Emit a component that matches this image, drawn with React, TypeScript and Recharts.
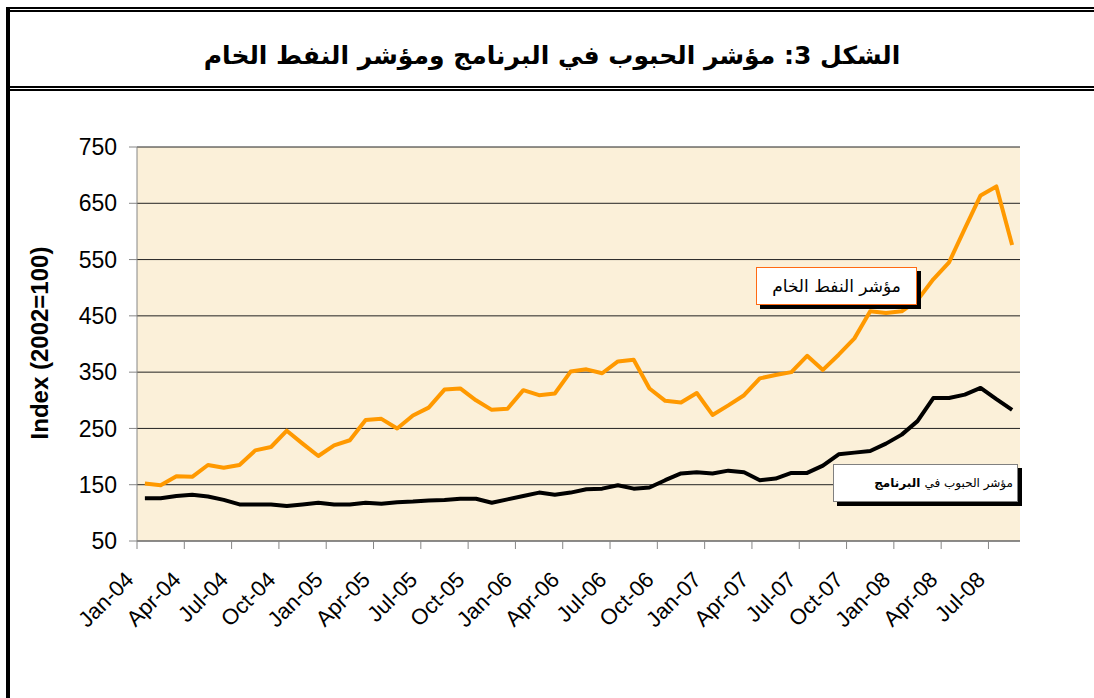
import React from 'react'
import { LineChart, Line, XAxis, YAxis, CartesianGrid } from 'recharts'

const months = [
  'Jan-04', 'Feb-04', 'Mar-04', 'Apr-04', 'May-04', 'Jun-04', 'Jul-04', 'Aug-04', 'Sep-04', 'Oct-04', 'Nov-04', 'Dec-04',
  'Jan-05', 'Feb-05', 'Mar-05', 'Apr-05', 'May-05', 'Jun-05', 'Jul-05', 'Aug-05', 'Sep-05', 'Oct-05', 'Nov-05', 'Dec-05',
  'Jan-06', 'Feb-06', 'Mar-06', 'Apr-06', 'May-06', 'Jun-06', 'Jul-06', 'Aug-06', 'Sep-06', 'Oct-06', 'Nov-06', 'Dec-06',
  'Jan-07', 'Feb-07', 'Mar-07', 'Apr-07', 'May-07', 'Jun-07', 'Jul-07', 'Aug-07', 'Sep-07', 'Oct-07', 'Nov-07', 'Dec-07',
  'Jan-08', 'Feb-08', 'Mar-08', 'Apr-08', 'May-08', 'Jun-08', 'Jul-08', 'Aug-08',
]

// مؤشر النفط الخام
const oilIndex = [
  152, 149, 165, 164, 185, 180, 185, 211, 217, 246, 223, 201,
  220, 229, 265, 267, 250, 273, 287, 319, 321, 300, 283, 285,
  318, 309, 312, 351, 355, 348, 369, 372, 321, 299, 296, 313,
  274, 291, 309, 339, 345, 350, 379, 354, 381, 410, 458, 455,
  458, 478, 515, 545, 605, 664, 680, 576,
]

// مؤشر الحبوب في البرنامج
const grainIndex = [
  126, 126, 130, 132, 129, 123, 115, 115, 115, 112, 115, 118,
  115, 115, 118, 116, 119, 120, 122, 123, 125, 125, 118, 124,
  130, 136, 132, 136, 142, 143, 149, 143, 145, 158, 170, 172,
  170, 175, 172, 158, 161, 171, 171, 184, 204, 207, 210, 223,
  239, 263, 304, 304, 310, 322, 302, 283,
]

const yTicks = [50, 150, 250, 350, 450, 550, 650, 750]

const data = months.map((m, i) => ({ month: m, oil: oilIndex[i], grain: grainIndex[i] }))

const W = 1094
const H = 698
const PLOT_LEFT = 137
const PLOT_RIGHT = 1020
const PLOT_TOP = 147
const PLOT_BOTTOM = 541
const HALF_STEP = (PLOT_RIGHT - PLOT_LEFT) / months.length / 2

const AXIS_GRAY = '#868686'
const FONT = 'Arial, "Liberation Sans", sans-serif'
const AR_FONT = '"DejaVu Sans", Arial, sans-serif'

function MonthTick(props: any) {
  const { x, y, payload } = props
  const bx = x - HALF_STEP
  const ax = x - 10
  const ay = y + 32
  return (
    <g>
      <line x1={bx} y1={y - 8} x2={bx} y2={y} stroke={AXIS_GRAY} />
      <text
        x={ax}
        y={ay}
        textAnchor="end"
        transform={`rotate(-45, ${ax}, ${ay})`}
        fontSize={22}
        fontFamily={FONT}
        fill="#000"
      >
        {payload.value}
      </text>
    </g>
  )
}

const rule = (style: React.CSSProperties) => (
  <div style={{ position: 'absolute', background: '#000', ...style }} />
)

export default function App() {
  return (
    <div style={{ position: 'relative', width: W, height: H, background: '#fff', overflow: 'hidden' }}>
      <style>{'body{margin:0}'}</style>

      {/* frame */}
      {rule({ left: 6, top: 7, width: W - 6, height: 2 })}
      {rule({ left: 10, top: 10, width: W - 10, height: 2 })}
      {rule({ left: 6, top: 7, width: 4, height: H - 7 })}
      {rule({ left: 10, top: 86, width: W - 10, height: 2 })}
      {rule({ left: 10, top: 89, width: W - 10, height: 2 })}

      <div
        dir="rtl"
        style={{
          position: 'absolute',
          left: 10,
          right: 0,
          top: 20,
          height: 70,
          display: 'flex',
          alignItems: 'center',
          justifyContent: 'center',
          fontFamily: AR_FONT,
          fontWeight: 'bold',
          fontSize: 25,
          color: '#000',
        }}
      >
        الشكل 3: مؤشر الحبوب في البرنامج ومؤشر النفط الخام
      </div>

      <div style={{ position: 'absolute', left: 0, top: 0 }}>
        <LineChart
          width={W}
          height={H}
          data={data}
          margin={{ top: PLOT_TOP, right: W - PLOT_RIGHT, bottom: 0, left: 0 }}
        >
          <CartesianGrid vertical={false} stroke="#222" fill="#fbf0d9" />
          <XAxis
            dataKey="month"
            interval={2}
            height={H - PLOT_BOTTOM}
            padding={{ left: HALF_STEP, right: HALF_STEP }}
            axisLine={{ stroke: AXIS_GRAY }}
            tickLine={{ stroke: 'none' }}
            tickSize={8}
            tickMargin={0}
            tick={<MonthTick />}
          />
          <XAxis
            xAxisId="top"
            orientation="top"
            dataKey="month"
            height={0}
            tick={false}
            tickLine={false}
            axisLine={{ stroke: AXIS_GRAY }}
          />
          <YAxis
            domain={[50, 750]}
            ticks={yTicks}
            width={PLOT_LEFT}
            axisLine={{ stroke: AXIS_GRAY }}
            tickLine={{ stroke: AXIS_GRAY }}
            tickSize={8}
            tickMargin={12}
            tick={{ fill: '#000', fontSize: 23, fontFamily: FONT }}
            interval={0}
          />
          <YAxis
            yAxisId="right"
            orientation="right"
            domain={[50, 750]}
            width={0}
            tick={false}
            tickLine={false}
            axisLine={{ stroke: AXIS_GRAY }}
          />
          <Line
            dataKey="oil"
            stroke="#ff9900"
            strokeWidth={4}
            strokeLinejoin="round"
            dot={false}
            isAnimationActive={false}
          />
          <Line
            dataKey="grain"
            stroke="#000"
            strokeWidth={4}
            strokeLinejoin="round"
            dot={false}
            isAnimationActive={false}
          />
        </LineChart>
      </div>

      <div
        style={{
          position: 'absolute',
          left: 40,
          top: 343,
          transform: 'translate(-50%, -50%) rotate(-90deg)',
          whiteSpace: 'nowrap',
          fontFamily: FONT,
          fontWeight: 'bold',
          fontSize: 24,
          color: '#000',
        }}
      >
        Index (2002=100)
      </div>

      {/* series labels */}
      <div
        dir="rtl"
        style={{
          position: 'absolute',
          left: 756,
          top: 267,
          width: 161,
          height: 38,
          boxSizing: 'border-box',
          background: '#fff',
          border: '1px solid #ff6a13',
          boxShadow: '4px 4px 0 #000',
          display: 'flex',
          alignItems: 'center',
          justifyContent: 'center',
          fontFamily: AR_FONT,
          fontSize: 17,
          color: '#000',
        }}
      >
        مؤشر النفط الخام
      </div>
      <div
        dir="rtl"
        style={{
          position: 'absolute',
          left: 833,
          top: 464,
          width: 185,
          height: 38,
          boxSizing: 'border-box',
          background: '#fff',
          border: '1px solid #808080',
          boxShadow: '4px 4px 0 #000',
          display: 'flex',
          alignItems: 'center',
          justifyContent: 'flex-start',
          paddingRight: 4,
          whiteSpace: 'nowrap',
          fontFamily: AR_FONT,
          fontSize: 12,
          color: '#000',
        }}
      >
        مؤشر الحبوب في <b>&nbsp;البرنامج</b>
      </div>
    </div>
  )
}
